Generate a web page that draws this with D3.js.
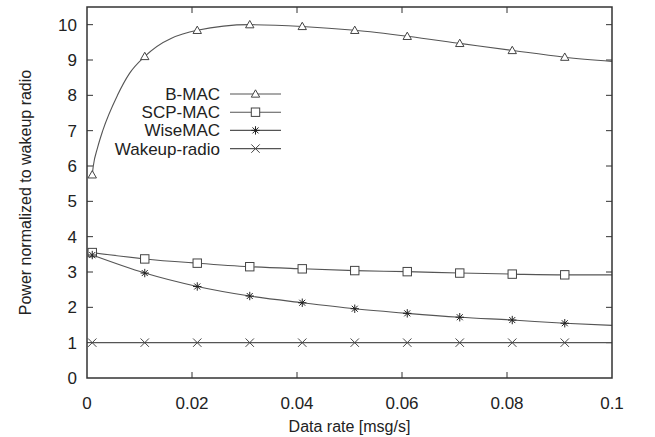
<!DOCTYPE html>
<html>
<head>
<meta charset="utf-8">
<script src="https://cdn.jsdelivr.net/npm/d3@7"></script>
<style>
  body { margin: 0; background: white; }
  text { font-family: "Liberation Sans", Arial, sans-serif; fill: #222; }
</style>
</head>
<body>
<div id="chart"></div>
<script>
// data
var markX = [0.001, 0.011, 0.021, 0.031, 0.041, 0.051, 0.061, 0.071, 0.081, 0.091];
var endX = 0.1;
var bmac = [5.75, 9.1, 9.84, 10.0, 9.95, 9.84, 9.67, 9.47, 9.27, 9.08];
var scpmac = [3.55, 3.37, 3.25, 3.15, 3.09, 3.04, 3.01, 2.97, 2.94, 2.92];
var wisemac = [3.48, 2.97, 2.59, 2.32, 2.13, 1.96, 1.83, 1.72, 1.64, 1.55];
var wakeup = [1, 1, 1, 1, 1, 1, 1, 1, 1, 1];
var endValues = [8.96, 2.92, 1.49, 1];
// B-MAC rises steeply before the second marker
var bmacRiseX = [0.0012, 0.002, 0.003, 0.0058, 0.0081];
var bmacRise = [6.0, 6.51, 7.0, 8.0, 8.62];

var names = ["B-MAC", "SCP-MAC", "WiseMAC", "Wakeup-radio"];
var shapes = ["triangle", "square", "star", "cross"];
var xTicks = [0, 0.02, 0.04, 0.06, 0.08, 0.1];
var yTicks = [0, 1, 2, 3, 4, 5, 6, 7, 8, 9, 10];

var width = 655, height = 437;
var margin = {left: 87, right: 43, top: 7, bottom: 59};
var lineColor = "#555";

var svg = d3.select("#chart").append("svg")
  .attr("width", width).attr("height", height);

var x = d3.scaleLinear().domain([0, 0.1]).range([margin.left, width - margin.right]);
var y = d3.scaleLinear().domain([0, 10.5]).range([height - margin.bottom, margin.top]);

function buildSeries(vals, endVal, extraX, extraY) {
  var pts = markX.map(function (d, i) { return [d, vals[i]]; });
  if (extraX) {
    extraX.forEach(function (d, i) { pts.push([d, extraY[i]]); });
    pts.sort(function (a, b) { return a[0] - b[0]; });
  }
  pts.push([endX, endVal]);
  return pts;
}

var series = [
  {name: names[0], shape: shapes[0], vals: bmac, pts: buildSeries(bmac, endValues[0], bmacRiseX, bmacRise)},
  {name: names[1], shape: shapes[1], vals: scpmac, pts: buildSeries(scpmac, endValues[1])},
  {name: names[2], shape: shapes[2], vals: wisemac, pts: buildSeries(wisemac, endValues[2])},
  {name: names[3], shape: shapes[3], vals: wakeup, pts: buildSeries(wakeup, endValues[3])}
];

// ticks inside the box, mirrored on all sides
var x0 = x.range()[0], x1 = x.range()[1], y0 = y.range()[0], y1 = y.range()[1];
var tickLen = 6;
var axes = svg.append("g").attr("stroke", "#333").attr("stroke-width", 1);
xTicks.slice(1, -1).forEach(function (t) {
  axes.append("line").attr("x1", x(t)).attr("x2", x(t)).attr("y1", y0).attr("y2", y0 - tickLen);
  axes.append("line").attr("x1", x(t)).attr("x2", x(t)).attr("y1", y1).attr("y2", y1 + tickLen);
});
yTicks.slice(1).forEach(function (t) {
  axes.append("line").attr("x1", x0).attr("x2", x0 + tickLen).attr("y1", y(t)).attr("y2", y(t));
  axes.append("line").attr("x1", x1).attr("x2", x1 - tickLen).attr("y1", y(t)).attr("y2", y(t));
});

svg.append("g").selectAll("text").data(xTicks).enter().append("text")
  .attr("x", function (d) { return x(d); })
  .attr("y", y0 + 31)
  .attr("text-anchor", "middle")
  .style("font-size", "17px")
  .text(function (d) { return d3.format("~g")(d); });

svg.append("g").selectAll("text").data(yTicks).enter().append("text")
  .attr("x", x0 - 10)
  .attr("y", function (d) { return y(d) + 6; })
  .attr("text-anchor", "end")
  .style("font-size", "17px")
  .text(function (d) { return d; });

svg.append("text")
  .attr("x", (x0 + x1) / 2).attr("y", 432)
  .attr("text-anchor", "middle").style("font-size", "16px")
  .text("Data rate [msg/s]");

svg.append("text")
  .attr("transform", "translate(31," + ((y0 + y1) / 2) + ") rotate(-90)")
  .attr("text-anchor", "middle").style("font-size", "16px")
  .text("Power normalized to wakeup radio");

var line = d3.line()
  .x(function (d) { return x(d[0]); })
  .y(function (d) { return y(d[1]); })
  .curve(d3.curveMonotoneX);

var plot = svg.append("g");
series.forEach(function (s) {
  plot.append("path").attr("d", line(s.pts))
    .attr("fill", "none").attr("stroke", lineColor).attr("stroke-width", 1.1);
});

function drawMarker(g, shape, cx, cy) {
  var r = 4.2;
  var m = g.append("g").attr("transform", "translate(" + cx + "," + cy + ")")
    .attr("stroke", "#444").attr("stroke-width", 1).attr("fill", "white");
  if (shape === "triangle") {
    m.append("path").attr("d", "M0,-" + r + "L" + r + "," + (r * 0.75) + "L-" + r + "," + (r * 0.75) + "Z");
  } else if (shape === "square") {
    m.append("rect").attr("x", -r).attr("y", -r).attr("width", 2 * r).attr("height", 2 * r);
  } else if (shape === "star") {
    m.attr("stroke", "#222");
    m.append("path").attr("d", "M-" + r + ",0H" + r + "M0,-" + r + "V" + r +
      "M-3,-3L3,3M-3,3L3,-3");
  } else {
    m.append("path").attr("d", "M-" + r + ",-" + r + "L" + r + "," + r + "M-" + r + "," + r + "L" + r + ",-" + r);
  }
}

series.forEach(function (s) {
  var g = plot.append("g");
  markX.forEach(function (mx, i) { drawMarker(g, s.shape, x(mx), y(s.vals[i])); });
});

// legend
var legend = svg.append("g");
series.forEach(function (s, i) {
  var ly = 94 + i * 18.2;
  legend.append("text").attr("x", 220).attr("y", ly + 6)
    .attr("text-anchor", "end").style("font-size", "17px").text(s.name);
  legend.append("line").attr("x1", 230).attr("x2", 281).attr("y1", ly).attr("y2", ly)
    .attr("stroke", lineColor).attr("stroke-width", 1.1);
  drawMarker(legend, s.shape, 255.5, ly);
});

// frame
svg.append("rect").attr("x", x0).attr("y", y1).attr("width", x1 - x0).attr("height", y0 - y1)
  .attr("fill", "none").attr("stroke", "#333").attr("stroke-width", 1.5);
</script>
</body>
</html>
